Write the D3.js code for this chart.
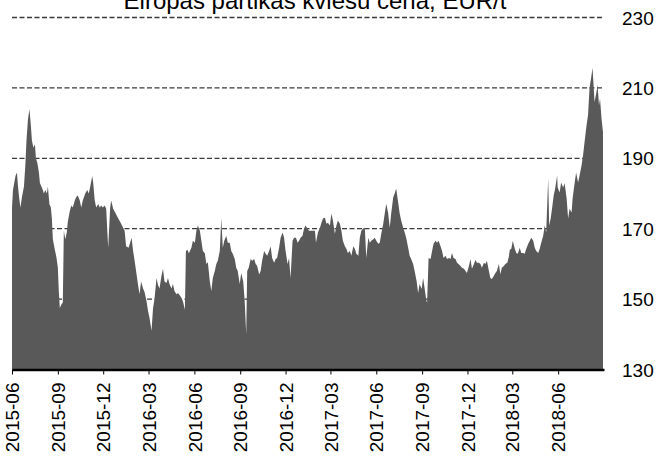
<!DOCTYPE html>
<html>
<head>
<meta charset="utf-8">
<script src="https://cdn.jsdelivr.net/npm/d3@7"></script>
<style>
  html, body { margin: 0; padding: 0; background: #ffffff; }
  svg { display: block; font-family: "Liberation Sans", Arial, sans-serif; }
</style>
</head>
<body>
<svg id="chart" width="660" height="459"></svg>
<script>
const title = "Eiropas pārtikas kviešu cena, EUR/t";

const dates2015 = ["2015-06-01","2015-06-03","2015-06-08","2015-06-11","2015-06-13","2015-06-16","2015-06-18","2015-06-21","2015-06-25","2015-06-28","2015-06-30",
"2015-07-03","2015-07-06","2015-07-09","2015-07-11","2015-07-14","2015-07-17","2015-07-19","2015-07-22","2015-07-25","2015-07-27","2015-07-30",
"2015-08-02","2015-08-04","2015-08-07","2015-08-10","2015-08-12","2015-08-15","2015-08-18","2015-08-20","2015-08-22","2015-08-26","2015-08-29",
"2015-09-01","2015-09-03","2015-09-05","2015-09-08","2015-09-11","2015-09-13","2015-09-16","2015-09-19","2015-09-21","2015-09-25","2015-09-28",
"2015-10-01","2015-10-05","2015-10-08","2015-10-11","2015-10-15","2015-10-18","2015-10-21","2015-10-26","2015-10-30",
"2015-11-02","2015-11-05","2015-11-09","2015-11-11","2015-11-14","2015-11-17","2015-11-21","2015-11-24","2015-11-27","2015-11-30",
"2015-12-04","2015-12-07","2015-12-11","2015-12-15","2015-12-17","2015-12-21","2015-12-25","2015-12-31"];
const prices2015 = [176,181,185,186,182,178,176,179,182,188.6,195,
201,204,199,195,193,194,190,188.6,186,183,182,
181,180,181,180,182,177,176,173,167,164,162,
159,152,147.5,148.5,149,169.4,167,169,172,175,176.6,
176,178,179,179.4,178,176,178,180,181,
180,182,185,183,178,176,177,176,176.6,176,
176.6,175.7,164.6,176,178,175.7,174.6,173];

const dates2016 = ["2016-01-05","2016-01-10","2016-01-13","2016-01-16","2016-01-21","2016-01-27","2016-01-30",
"2016-02-02","2016-02-05","2016-02-09","2016-02-12","2016-02-15","2016-02-19","2016-02-22","2016-02-26","2016-02-29",
"2016-03-03","2016-03-07","2016-03-10","2016-03-13","2016-03-17","2016-03-20","2016-03-23","2016-03-27","2016-03-30",
"2016-04-02","2016-04-06","2016-04-09","2016-04-12","2016-04-16","2016-04-19","2016-04-22","2016-04-26","2016-04-29",
"2016-05-03","2016-05-06","2016-05-09","2016-05-13","2016-05-15","2016-05-18","2016-05-21","2016-05-23","2016-05-26","2016-05-29",
"2016-06-02","2016-06-05","2016-06-08","2016-06-12","2016-06-15","2016-06-18","2016-06-22","2016-06-25","2016-06-28",
"2016-07-02","2016-07-05","2016-07-08","2016-07-12","2016-07-15","2016-07-18","2016-07-22","2016-07-25","2016-07-28","2016-07-31",
"2016-08-04","2016-08-07","2016-08-11","2016-08-14","2016-08-17","2016-08-21","2016-08-24","2016-08-27","2016-08-31",
"2016-09-03","2016-09-07","2016-09-10","2016-09-13","2016-09-15","2016-09-18","2016-09-22","2016-09-25","2016-09-29",
"2016-10-02","2016-10-05","2016-10-09","2016-10-12","2016-10-15","2016-10-19","2016-10-22","2016-10-25","2016-10-29",
"2016-11-01","2016-11-04","2016-11-08","2016-11-11","2016-11-14","2016-11-18","2016-11-21","2016-11-25","2016-11-28",
"2016-12-01","2016-12-05","2016-12-08","2016-12-11","2016-12-15","2016-12-18","2016-12-22","2016-12-25","2016-12-28","2016-12-31"];
const prices2016 = [171.7,170.3,169.4,165,164.6,167.4,163.7,
161,158,154,151.4,155,153,152,149.4,146.6,
144.6,141,147.4,150,156,154,153,156.6,158.6,
155,154.6,156,154.3,153,154.3,152.3,151.4,151.7,
151,150.3,149.4,147,163.7,164,163,163.7,164.6,166.6,
166,169.4,170.9,169.4,166.6,163.7,163,160,160.5,
155,152.3,156,158,160,160.9,163.7,173,164.6,166.6,
168,166,166,163.7,162.9,161.4,158.9,158,154.3,
157.4,155,149.4,140,158,158.9,161.4,160.9,161.4,
160,159.4,157,158,160.9,163.7,162.9,162.3,163.7,
165,161.7,160.3,161.4,161.7,164.6,167.4,168.9,167.4,
163.7,160,161.7,156,166.6,167.4,167.4,166,166.6,167.4];

const dates2017 = ["2017-01-04","2017-01-07","2017-01-10","2017-01-14","2017-01-17","2017-01-22","2017-01-29","2017-01-31",
"2017-02-04","2017-02-08","2017-02-11","2017-02-14","2017-02-18","2017-02-21","2017-02-24","2017-02-28",
"2017-03-03","2017-03-06","2017-03-10","2017-03-13","2017-03-16","2017-03-20","2017-03-23","2017-03-26","2017-03-30",
"2017-04-02","2017-04-05","2017-04-09","2017-04-12","2017-04-16","2017-04-19","2017-04-22","2017-04-26","2017-04-29",
"2017-05-02","2017-05-05","2017-05-09","2017-05-12","2017-05-16","2017-05-19","2017-05-22","2017-05-26","2017-05-29",
"2017-06-01","2017-06-05","2017-06-08","2017-06-11","2017-06-15","2017-06-18","2017-06-21","2017-06-25","2017-06-28",
"2017-07-01","2017-07-05","2017-07-08","2017-07-11","2017-07-15","2017-07-18","2017-07-21","2017-07-25","2017-07-28","2017-07-31",
"2017-08-04","2017-08-07","2017-08-10","2017-08-14","2017-08-17","2017-08-21","2017-08-24","2017-08-27","2017-08-31",
"2017-09-03","2017-09-06","2017-09-09","2017-09-11","2017-09-14","2017-09-18","2017-09-21","2017-09-24","2017-09-28",
"2017-10-01","2017-10-04","2017-10-08","2017-10-11","2017-10-14","2017-10-18","2017-10-21","2017-10-25","2017-10-28","2017-10-31",
"2017-11-03","2017-11-07","2017-11-10","2017-11-13","2017-11-17","2017-11-20","2017-11-24","2017-11-27","2017-11-30",
"2017-12-04","2017-12-07","2017-12-10","2017-12-14","2017-12-17","2017-12-20","2017-12-24","2017-12-27","2017-12-30"];
const prices2017 = [168,170,170.9,170,169.4,169.4,169.4,166,
169,170.3,171.7,172.9,173.1,171.4,171.7,170.9,
174.3,172.3,168.6,170.9,172.3,171.4,169.4,166.6,165,
164.3,163.1,163.7,162.3,165,164.3,162.9,162.3,167.4,
169.4,170,170.3,161.7,167.4,166,166.6,167,167.4,
166.6,165.7,166,168.6,171.4,174.3,177.1,174.3,170.3,
174.3,178.9,180,181.4,177.4,174.3,172.3,170.3,169,167.4,
164.6,162.3,161.4,160,158,155.1,151.7,154.3,152.9,
156,153.1,150,148.9,161.7,161.4,163.7,165.7,166.6,
166,166.6,165,163.7,161.7,162.3,161.4,161.7,161.4,163.1,
161.7,161.4,160.3,160,159.4,158.9,158.6,158,157.4,
159.4,161.4,158.6,160,161.1,160.3,160.3,160,158.9];

const dates2018 = ["2018-01-03","2018-01-06","2018-01-09","2018-01-13","2018-01-16","2018-01-19","2018-01-23","2018-01-26","2018-01-29",
"2018-02-02","2018-02-05","2018-02-08","2018-02-12","2018-02-15","2018-02-19","2018-02-22","2018-02-24","2018-02-27",
"2018-03-02","2018-03-06","2018-03-09","2018-03-12","2018-03-16","2018-03-19","2018-03-23","2018-03-26","2018-03-29",
"2018-04-02","2018-04-05","2018-04-08","2018-04-12","2018-04-15","2018-04-18","2018-04-22","2018-04-25","2018-04-28",
"2018-05-02","2018-05-05","2018-05-08","2018-05-12","2018-05-14","2018-05-17","2018-05-20","2018-05-23","2018-05-26","2018-05-30","2018-05-31",
"2018-06-04","2018-06-07","2018-06-11","2018-06-14","2018-06-18","2018-06-21","2018-06-24","2018-06-28","2018-06-30",
"2018-07-04","2018-07-07","2018-07-11","2018-07-14","2018-07-18","2018-07-21","2018-07-24","2018-07-28","2018-07-31",
"2018-08-03","2018-08-07","2018-08-09","2018-08-11","2018-08-13","2018-08-17","2018-08-19","2018-08-22","2018-08-24","2018-08-27","2018-08-30"];
const prices2018 = [160.3,160,160.9,158,156,155.7,156.6,157.4,158,
160,157.1,158.9,159.4,160,160.3,162,164,164.3,
166.6,164.3,163.1,162.9,164.6,163.1,163.1,162.9,164.3,
165.7,166.6,167.4,166.6,164.6,163.7,163.1,164.3,166,
168,170.9,168.9,184.3,170.9,172.9,176,179.4,181.4,185.1,181.7,
180.3,183.1,181.7,182.9,178.6,172.9,175.7,174.6,178.6,
182.9,186,183.1,185.1,188,190.9,194.6,199.4,202.3,
210,213.7,215.7,210.9,206,208.9,210.9,205.1,207,201.4,197.4];

const xDomain = ["2015-06-01", "2018-09-01"];
const xTickLabels = ["2015-06","2015-09","2015-12","2016-03","2016-06","2016-09","2016-12","2017-03","2017-06","2017-09","2017-12","2018-03","2018-06"];
const yDomain = [130, 230];
const yTickValues = [130, 150, 170, 190, 210, 230];
const gridValues = [150, 170, 190, 210, 230];

const parse = d3.timeParse("%Y-%m-%d");
const parseM = d3.timeParse("%Y-%m");
const allDates = [].concat(dates2015, dates2016, dates2017, dates2018);
const allPrices = [].concat(prices2015, prices2016, prices2017, prices2018);
const n = Math.min(allDates.length, allPrices.length);
const data = [];
for (let i = 0; i < n; i++) data.push({ date: parse(allDates[i]), value: allPrices[i] });

const svg = d3.select("#chart");
const plotLeft = 12, plotRight = 604, plotTop = 17.5, plotBottom = 369.5;

const x = d3.scaleTime().domain(xDomain.map(parse)).range([plotLeft, plotRight]);
const y = d3.scaleLinear().domain(yDomain).range([plotBottom, plotTop]);

// gridlines (behind area)
svg.append("g").selectAll("line").data(gridValues).join("line")
  .attr("x1", plotLeft).attr("x2", plotRight)
  .attr("y1", d => y(d)).attr("y2", d => y(d))
  .attr("stroke", "#3a3a3a").attr("stroke-width", 1.3)
  .attr("stroke-dasharray", "5,2.5");

// area
const area = d3.area().x(d => x(d.date)).y0(y(yDomain[0])).y1(d => y(d.value));
svg.append("path").datum(data).attr("d", area).attr("fill", "#595959");

// x axis
const xAxis = d3.axisBottom(x)
  .tickValues(xTickLabels.map(parseM))
  .tickFormat(d3.timeFormat("%Y-%m"))
  .tickSize(5).tickSizeOuter(0);
const gx = svg.append("g").attr("transform", `translate(0,${plotBottom})`).call(xAxis);
gx.attr("font-family", null);
gx.select(".domain").attr("stroke", "#000").attr("stroke-width", 2.5);
gx.selectAll(".tick line").attr("stroke", "#000").attr("stroke-width", 1);
gx.selectAll(".tick text")
  .attr("font-size", 19).attr("fill", "#000")
  .attr("text-anchor", "end")
  .attr("transform", "rotate(-90)")
  .attr("x", -13).attr("y", 0).attr("dy", "0.35em");

// y axis (right, labels only)
const yAxis = d3.axisRight(y).tickValues(yTickValues).tickSize(0).tickPadding(0);
const gy = svg.append("g").attr("transform", "translate(622,0)").call(yAxis);
gy.attr("font-family", null);
gy.select(".domain").remove();
gy.selectAll(".tick text").attr("font-size", 19).attr("fill", "#000").attr("x", 0).attr("dy", "0.35em");

// title
svg.append("text").attr("x", 315).attr("y", 8.5).attr("text-anchor", "middle")
  .attr("font-size", 24).attr("fill", "#000").text(title);
</script>
</body>
</html>
